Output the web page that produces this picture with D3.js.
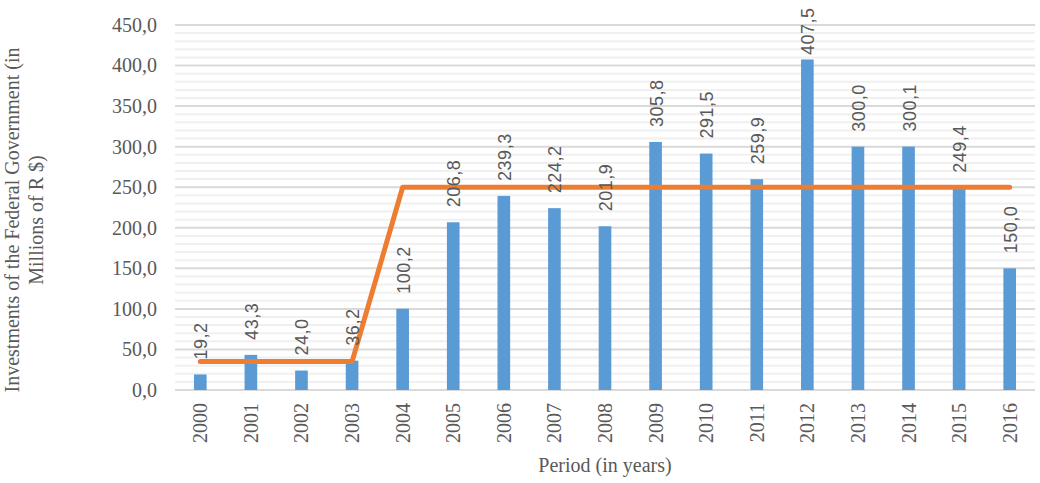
<!DOCTYPE html>
<html><head><meta charset="utf-8">
<script src="https://cdn.jsdelivr.net/npm/d3@7"></script>
<style>body{margin:0;background:#fff}svg{display:block}</style>
</head><body>
<svg id="c" width="1040" height="483"></svg>
<script>
const years = ["2000","2001","2002","2003","2004","2005","2006","2007","2008","2009","2010","2011","2012","2013","2014","2015","2016"];
const investments = [19.2,43.3,24.0,36.2,100.2,206.8,239.3,224.2,201.9,305.8,291.5,259.9,407.5,300.0,300.1,249.4,150.0];
const trendLevel = [35,35,35,35,250,250,250,250,250,250,250,250,250,250,250,250,250];
const yTicks = [0,50,100,150,200,250,300,350,400,450];
const yTitle = ["Investments of the Federal Government (in","Millions of R $)"];
const xTitle = "Period (in years)";

const svg = d3.select("#c");
const L = 175, R = 1035, T = 25, B = 390;
const x = d3.scaleBand().domain(years).range([L, R]).paddingInner(0.75).paddingOuter(0.375);
const y = d3.scaleLinear().domain([0, 450]).range([B, T]);
const fmt = v => d3.format(".1f")(v).replace(".", ",");
const serif = "'Liberation Serif','Times New Roman',serif";
const sans = "'Liberation Sans',Arial,sans-serif";

// minor grid
svg.append("g").selectAll("line").data(d3.range(0, 451, 10).filter(v => v % 50 !== 0)).join("line")
  .attr("x1", L).attr("x2", R).attr("y1", d => y(d)).attr("y2", d => y(d))
  .attr("stroke", "#f0f0f0").attr("stroke-width", 2);
// major grid
svg.append("g").selectAll("line").data(yTicks).join("line")
  .attr("x1", L).attr("x2", R).attr("y1", d => y(d)).attr("y2", d => y(d))
  .attr("stroke", "#d9d9d9").attr("stroke-width", 2);

// y axis labels
const yAxis = d3.axisLeft(y).tickValues(yTicks).tickFormat(fmt).tickSize(0).tickPadding(0);
const ya = svg.append("g").attr("transform", `translate(${L - 18},0)`).call(yAxis);
ya.select(".domain").remove();
ya.selectAll("text").attr("font-family", serif).attr("font-size", 20).attr("fill", "#595959");

// bars
svg.append("g").selectAll("rect").data(years).join("rect")
  .attr("x", d => x(d)).attr("width", x.bandwidth())
  .attr("y", (d, i) => y(investments[i])).attr("height", (d, i) => B - y(investments[i]))
  .attr("fill", "#5b9bd5");

// x axis labels
const xAxis = d3.axisBottom(x).tickSize(0).tickPadding(0);
const xa = svg.append("g").attr("transform", `translate(0,${B})`).call(xAxis);
xa.select(".domain").remove();
xa.selectAll("text").attr("font-family", serif).attr("font-size", 20).attr("fill", "#595959")
  .attr("text-anchor", "end").attr("dy", null).attr("y", 0)
  .attr("transform", "translate(7,13) rotate(-90)");

// trend line
const line = d3.line().x((d, i) => x(years[i]) + x.bandwidth() / 2).y(d => y(d));
svg.append("path").datum(trendLevel).attr("d", line)
  .attr("fill", "none").attr("stroke", "#ed7d31").attr("stroke-width", 5).attr("stroke-linejoin", "round").attr("stroke-linecap", "round");

// data labels
svg.append("g").selectAll("text").data(years).join("text")
  .attr("transform", (d, i) => {
    const cx = x(d) + x.bandwidth() / 2 + 7;
    const base = Math.max(y(investments[i]) - 15, 55);
    return `translate(${cx},${base}) rotate(-90)`;
  })
  .attr("font-family", sans).attr("font-size", 18).attr("fill", "#595959").attr("letter-spacing", 0.5)
  .text((d, i) => fmt(investments[i]));

// titles
svg.append("text").attr("x", (L + R) / 2).attr("y", 472).attr("text-anchor", "middle")
  .attr("font-family", serif).attr("font-size", 20).attr("fill", "#595959").text(xTitle);
const yt = svg.append("text").attr("transform", "translate(0,220) rotate(-90)")
  .attr("text-anchor", "middle").attr("font-family", serif).attr("font-size", 20).attr("fill", "#595959");
yt.selectAll("tspan").data(yTitle).join("tspan").attr("x", 0).attr("y", (d, i) => 19 + i * 24).text(d => d);
</script>
</body></html>
